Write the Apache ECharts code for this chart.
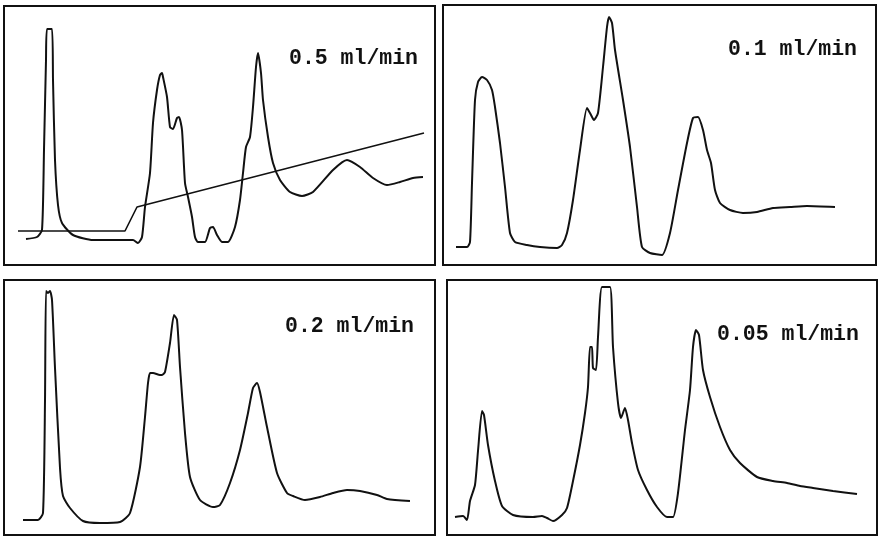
<!DOCTYPE html>
<html>
<head>
<meta charset="utf-8">
<style>
  html, body { margin: 0; padding: 0; background: #fff; }
  #chart { width: 879px; height: 537px; }
</style>
<script src="https://cdn.jsdelivr.net/npm/echarts@6/dist/echarts.min.js"></script>
</head>
<body>
<div id="chart"></div>
<script>
// flow rates, one panel each
const flowLabels = ['0.5 ml/min', '0.1 ml/min', '0.2 ml/min', '0.05 ml/min'];

// elution time (arbitrary units) and detector response for each run
const time05 = [22, 33, 38, 40, 42, 43, 48, 49, 51, 54, 58, 69, 89, 116, 129, 134, 138, 141, 146, 149, 153, 156, 158, 159, 163, 166, 169, 173, 175, 178, 181, 184, 188, 191, 194, 201, 206, 209, 213, 218, 224, 231, 236, 239, 242, 246, 249, 252, 254, 257, 259, 264, 269, 276, 286, 298, 309, 329, 343, 356, 369, 383, 396, 409, 419];
const resp05 = [26, 28, 35, 115, 205, 236, 236, 185, 105, 60, 42, 30, 25, 25, 25, 22, 28, 58, 92, 142, 175, 190, 192, 188, 168, 138, 136, 147, 148, 135, 82, 68, 48, 28, 23, 23, 37, 38, 30, 23, 23, 38, 65, 92, 118, 128, 158, 198, 212, 192, 165, 128, 102, 85, 73, 69, 73, 95, 105, 98, 87, 80, 83, 87, 88];

// solvent gradient trace drawn on the 0.5 ml/min run
const gradTime = [14, 121, 133, 420];
const gradLevel = [34, 34, 58, 132];

const time01 = [13, 24, 27, 29, 32, 35, 39, 44, 49, 52, 57, 62, 67, 72, 84, 97, 114, 119, 124, 130, 137, 144, 147, 151, 155, 160, 164, 166, 169, 172, 180, 187, 194, 199, 207, 219, 227, 235, 244, 250, 255, 260, 264, 268, 272, 277, 287, 300, 314, 330, 347, 364, 392];
const resp01 = [18, 18, 23, 82, 165, 183, 188, 185, 175, 158, 122, 78, 32, 23, 20, 18, 17, 20, 32, 65, 115, 157, 152, 145, 152, 198, 238, 248, 242, 215, 165, 118, 58, 18, 12, 10, 32, 75, 122, 147, 148, 135, 115, 102, 75, 62, 55, 52, 53, 57, 58, 59, 58];

const time02 = [19, 34, 39, 41, 42, 44, 46, 48, 51, 56, 59, 66, 79, 96, 116, 126, 136, 141, 144, 146, 149, 156, 158, 161, 166, 170, 173, 176, 181, 186, 196, 209, 216, 226, 236, 244, 249, 253, 256, 263, 273, 283, 289, 301, 316, 329, 343, 356, 373, 383, 406];
const resp02 = [15, 15, 22, 134, 244, 242, 244, 235, 167, 67, 39, 27, 14, 12, 13, 22, 68, 118, 152, 162, 162, 160, 160, 163, 192, 220, 215, 168, 102, 58, 35, 28, 30, 52, 85, 122, 147, 152, 143, 108, 62, 42, 39, 35, 38, 42, 45, 44, 40, 36, 34];

const time005 = [8, 16, 20, 23, 28, 31, 35, 37, 41, 48, 55, 66, 86, 95, 100, 106, 115, 120, 126, 133, 138, 141, 143, 145, 146, 149, 151, 155, 163, 166, 171, 174, 178, 181, 185, 191, 200, 210, 220, 226, 231, 238, 243, 246, 249, 252, 256, 263, 273, 283, 293, 310, 326, 340, 353, 366, 386, 410];
const resp005 = [18, 19, 15, 34, 50, 84, 124, 120, 90, 54, 29, 20, 18, 19, 17, 14, 20, 27, 54, 90, 122, 148, 188, 188, 167, 165, 198, 248, 248, 188, 132, 117, 127, 115, 92, 65, 45, 28, 18, 18, 42, 105, 145, 188, 205, 200, 165, 138, 108, 85, 72, 58, 54, 52, 49, 47, 44, 41];

// panel boxes in the page: [left, top, width, height]
const boxes = [
  [4, 6, 431, 259],
  [443, 5, 433, 260],
  [4, 280, 431, 255],
  [447, 280, 430, 255]
];
// label anchor (left, middle) in the page
const labelPos = [[289, 60], [728, 51], [285, 328], [717, 336]];

function pairs(xs, ys) {
  return xs.map((x, i) => [x, ys[i]]);
}

const runs = [
  pairs(time05, resp05),
  pairs(time01, resp01),
  pairs(time02, resp02),
  pairs(time005, resp005)
];

const chart = echarts.init(document.getElementById('chart'));

const option = {
  backgroundColor: '#fff',
  animation: false,
  grid: boxes.map(b => ({
    left: b[0], top: b[1], width: b[2], height: b[3],
    show: true, borderColor: '#111', borderWidth: 2, containLabel: false
  })),
  xAxis: boxes.map((b, i) => ({
    type: 'value', gridIndex: i, min: 0, max: b[2], show: false
  })),
  yAxis: boxes.map((b, i) => ({
    type: 'value', gridIndex: i, min: 0, max: b[3], show: false
  })),
  series: runs.map((d, i) => ({
    type: 'line',
    xAxisIndex: i,
    yAxisIndex: i,
    data: d,
    symbol: 'none',
    smooth: 0.2,
    lineStyle: { color: '#111', width: 2 }
  })).concat([{
    type: 'line',
    xAxisIndex: 0,
    yAxisIndex: 0,
    data: pairs(gradTime, gradLevel),
    symbol: 'none',
    lineStyle: { color: '#111', width: 1.6 }
  }]),
  graphic: flowLabels.map((t, i) => ({
    type: 'text',
    left: labelPos[i][0],
    top: labelPos[i][1] - 12,
    style: {
      text: t,
      fill: '#111',
      font: 'bold 21.5px "Liberation Mono", "Courier New", monospace'
    }
  }))
};

chart.setOption(option);
</script>
</body>
</html>
